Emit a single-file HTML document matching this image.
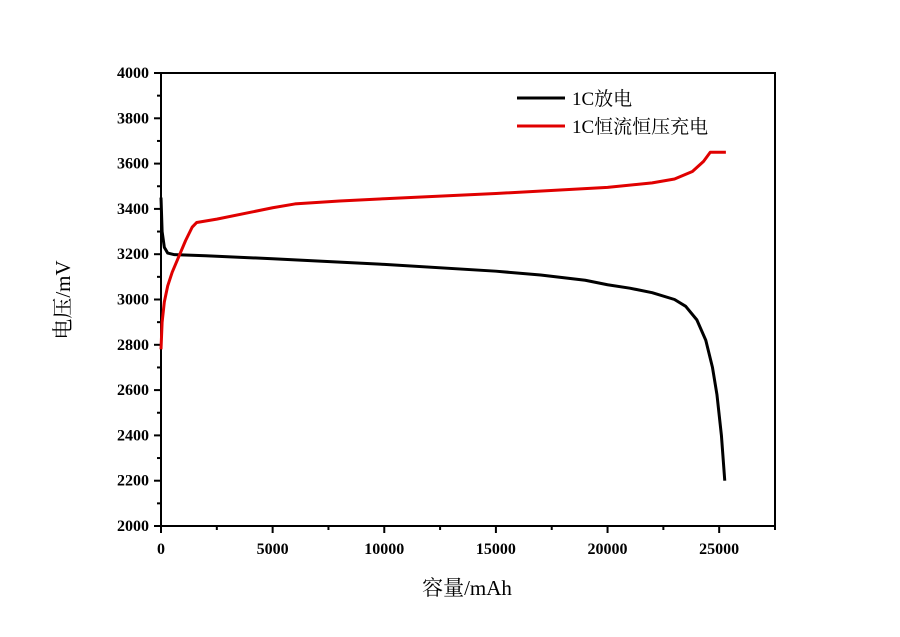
<!DOCTYPE html>
<html><head><meta charset="utf-8"><style>
body{margin:0;background:#fff}
svg text{font-family:"Liberation Serif","Noto Serif CJK SC",serif}
</style></head><body>
<svg id="c" width="900" height="632"></svg>
<script>
const xTicks=[0,5000,10000,15000,20000,25000];
const yTicks=[2000,2200,2400,2600,2800,3000,3200,3400,3600,3800,4000];
const dischargeX=[0,50,150,300,600,2000,5000,8000,10000,15000,17000,19000,20000,21000,22000,23000,23500,24000,24400,24700,24900,25100,25250];
const dischargeY=[3450,3300,3230,3205,3198,3193,3180,3165,3155,3125,3108,3085,3065,3050,3030,3000,2970,2910,2820,2700,2580,2400,2200];
const chargeX=[0,50,150,300,500,800,1100,1400,1600,2500,4000,5000,6000,8000,10000,15000,20000,22000,23000,23800,24300,24600,25300];
const chargeY=[2780,2900,2990,3060,3120,3190,3260,3320,3340,3355,3385,3405,3422,3435,3445,3468,3495,3515,3532,3565,3610,3650,3650];
const L=161,R=775,T=73,B=526,XMAX=27500,YMIN=2000,YMAX=4000;
const sx=v=>L+(v/XMAX)*(R-L), sy=v=>B-(v-YMIN)/(YMAX-YMIN)*(B-T);
const svg=document.getElementById('c');const NS='http://www.w3.org/2000/svg';
function mk(t,a){const e=document.createElementNS(NS,t);for(const k in a)e.setAttribute(k,a[k]);svg.appendChild(e);return e;}
let e=mk('rect',{x:L,y:T,width:R-L,height:B-T,fill:'none',stroke:'#000','stroke-width':2});


xTicks.forEach(v=>{
 mk('line',{x1:sx(v),x2:sx(v),y1:B,y2:B+7,stroke:'#000','stroke-width':2});
 mk('line',{x1:sx(v+2500),x2:sx(v+2500),y1:B,y2:B+4,stroke:'#000','stroke-width':2});
 const t=mk('text',{x:sx(v),y:B+28,'text-anchor':'middle','font-size':16,'font-weight':'bold'});t.textContent=v;
 
 
});
yTicks.forEach(v=>{
 mk('line',{x1:L-7,x2:L,y1:sy(v),y2:sy(v),stroke:'#000','stroke-width':2});
 if(v<YMAX)mk('line',{x1:L-4,x2:L,y1:sy(v+100),y2:sy(v+100),stroke:'#000','stroke-width':2});
 const t=mk('text',{x:L-12,y:sy(v)+5,'text-anchor':'end','font-size':16,'font-weight':'bold'});t.textContent=v;
 
 
});
function line(xs,ys,col,name){const p=mk('polyline',{points:xs.map((x,i)=>sx(x)+','+sy(ys[i])).join(' '),fill:'none',stroke:col,'stroke-width':3,'stroke-linejoin':'round'});
 
 }
line(dischargeX,dischargeY,'#000','discharge-line');
line(chargeX,chargeY,'#e00000','charge-line');
mk('line',{x1:517,x2:565,y1:98,y2:98,stroke:'#000','stroke-width':3});
mk('line',{x1:517,x2:565,y1:126,y2:126,stroke:'#e00000','stroke-width':3});
let t=mk('text',{x:572,y:105,'font-size':19});t.textContent='1C放电';


t=mk('text',{x:572,y:133,'font-size':19});t.textContent='1C恒流恒压充电';


t=mk('text',{x:467,y:595,'text-anchor':'middle','font-size':21});t.textContent='容量/mAh';


t=mk('text',{x:0,y:0,'text-anchor':'middle','font-size':21,transform:'translate(70,300) rotate(-90)'});t.textContent='电压/mV';


</script>
</body></html>
